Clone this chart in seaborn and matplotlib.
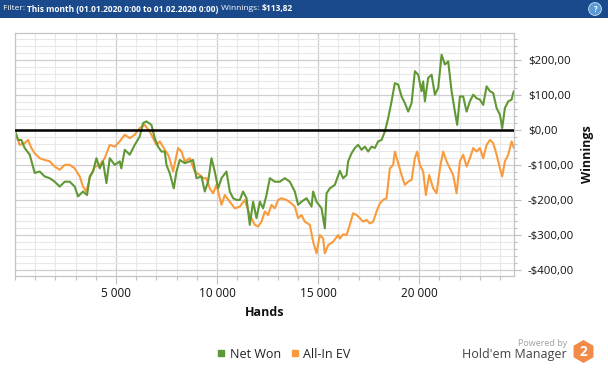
import pandas as pd
import seaborn as sns
import matplotlib.pyplot as plt
from matplotlib.ticker import MultipleLocator, FuncFormatter
from matplotlib.patches import Rectangle, RegularPolygon
from matplotlib.lines import Line2D

# --- data (hands played, cumulative $) ---
net_hands = [0, 150, 317, 480, 728, 975, 1223, 1470, 1718, 1965, 2213, 2460, 2708, 2955,
             3119, 3366, 3564, 3698, 3861, 4029, 4193, 4356, 4524, 4688, 4935, 5183, 5260,
             5430, 5678, 5925, 6173, 6336, 6504, 6752, 6915, 7079, 7247, 7410, 7494, 7658,
             7856, 7989, 8153, 8400, 8648, 8811, 8979, 9227, 9390, 9554, 9722, 9885, 10049,
             10217, 10464, 10628, 10791, 10959, 11123, 11286, 11454, 11618, 11781, 11949,
             12113, 12276, 12444, 12608, 12855, 13103, 13350, 13598, 13845, 14009, 14177,
             14424, 14672, 14751, 14919, 15167, 15330, 15414, 15578, 15825, 16073, 16236,
             16404, 16484, 16652, 16815, 16979, 17147, 17310, 17474, 17642, 17805, 17969,
             18137, 18300, 18464, 18632, 18795, 18959, 19127, 19290, 19454, 19622, 19785,
             19949, 20117, 20196, 20280, 20444, 20612, 20775, 20939, 21107, 21270, 21434,
             21602, 21765, 21879, 22013, 22176, 22344, 22508, 22671, 22839, 23003, 23166,
             23334, 23498, 23661, 23829, 23993, 24107, 24240, 24404, 24572, 24651, 24686]
net_won = [-3, -29, -29, -52, -71, -123, -119, -133, -138, -148, -162, -148, -148, -162,
           -190, -176, -186, -133, -119, -81, -110, -90, -152, -81, -100, -90, -110,
           -57, -71, -43, -19, 19, 24, 14, -24, -48, -62, -62, -100, -124,
           -167, -119, -86, -95, -90, -86, -138, -133, -176, -148, -81, -119, -167,
           -138, -119, -176, -195, -200, -200, -176, -195, -271, -205, -252,
           -205, -224, -186, -138, -148, -148, -138, -148, -176, -214, -205,
           -195, -219, -176, -205, -224, -281, -181, -167, -157, -117, -138,
           -129, -90, -67, -52, -43, -57, -48, -62, -48, -52, -33,
           -29, -5, 33, 81, 133, 129, 95, 76, 52, 76, 167,
           157, 110, 138, 81, 148, 157, 100, 119, 214, 186, 195,
           110, 52, 14, 95, 95, 52, 81, 100, 90, 86, 71,
           124, 110, 105, 62, 43, 5, 62, 81, 86, 105, 110]

ev_hands = [0, 233, 480, 644, 812, 975, 1223, 1470, 1718, 1965, 2213, 2460, 2708, 2955,
            3203, 3366, 3534, 3698, 3945, 4193, 4440, 4688, 4935, 5183, 5430, 5678, 5925,
            6173, 6420, 6668, 6831, 6999, 7163, 7410, 7574, 7658, 7821, 8069, 8237, 8400,
            8648, 8895, 9143, 9306, 9474, 9638, 9801, 9969, 10217, 10380, 10628, 10875,
            11123, 11370, 11618, 11865, 12029, 12197, 12360, 12524, 12692, 12855, 13019,
            13187, 13434, 13682, 13845, 14009, 14177, 14340, 14588, 14751, 14919, 15083,
            15246, 15330, 15494, 15741, 15989, 16073, 16236, 16404, 16568, 16731, 16899,
            17063, 17226, 17394, 17558, 17721, 17889, 18053, 18216, 18384, 18548, 18711,
            18795, 18959, 19127, 19290, 19454, 19622, 19785, 19899, 20033, 20196, 20330,
            20493, 20691, 20859, 21023, 21186, 21354, 21518, 21681, 21849, 22013, 22176,
            22344, 22508, 22671, 22839, 23003, 23166, 23334, 23498, 23661, 23829, 23993,
            24107, 24240, 24404, 24572, 24686]
allin_ev = [-3, -43, -38, -29, -52, -67, -81, -86, -90, -105, -114, -100, -100, -110,
            -133, -162, -176, -138, -105, -100, -81, -43, -48, -33, -14, -24, -14,
            5, 14, -5, -24, -43, -33, -57, -71, -85, -119, -52, -62, -90,
            -81, -119, -129, -138, -138, -167, -181, -157, -214, -186, -205, -224,
            -219, -200, -243, -271, -276, -262, -233, -243, -214, -224, -200,
            -195, -200, -210, -219, -252, -243, -262, -271, -319, -352, -300,
            -310, -352, -329, -319, -300, -310, -298, -300, -271, -238, -243,
            -252, -262, -257, -267, -262, -233, -210, -200, -195, -110, -100,
            -62, -95, -129, -157, -148, -143, -81, -62, -100, -119, -186,
            -129, -167, -181, -110, -62, -90, -110, -129, -181, -90, -71,
            -105, -81, -52, -62, -52, -81, -43, -29, -38, -71, -110,
            -133, -90, -71, -33, -52]

series_names = ["Net Won", "All-In EV"]
series_colors = ["#5f9834", "#f99b3c"]
x_ticks = [5000, 10000, 15000, 20000]
y_ticks = [200, 100, 0, -100, -200, -300, -400]

W, H = 608, 368


def money(v, pos=None):
    v = round(v)
    sign = "-" if v < 0 else ""
    return sign + "$" + f"{abs(v):.2f}".replace(".", ",")


def hands_fmt(v, pos=None):
    return f"{int(v):,}".replace(",", " ")


def main():
    sns.set_theme(style="white")
    plt.rcParams["font.family"] = ["Open Sans", "DejaVu Sans"]

    df = pd.concat([
        pd.DataFrame({"hands": net_hands, "winnings": net_won, "series": series_names[0]}),
        pd.DataFrame({"hands": ev_hands, "winnings": allin_ev, "series": series_names[1]}),
    ])

    fig = plt.figure(figsize=(W / 100, H / 100), dpi=100)
    fig.patch.set_facecolor("white")
    ax = fig.add_axes([15 / W, 1 - 275.7 / H, 499 / W, 242.7 / H])

    # grid first
    ax.xaxis.set_minor_locator(MultipleLocator(1000))
    ax.yaxis.set_minor_locator(MultipleLocator(20))
    ax.grid(which="minor", color="#e8e8e8", lw=0.8)
    ax.grid(which="major", color="#cfcfcf", lw=0.9)
    ax.set_axisbelow(True)

    sns.lineplot(data=df, x="hands", y="winnings", hue="series",
                 hue_order=[series_names[1], series_names[0]],
                 palette=dict(zip(series_names, series_colors)),
                 estimator=None, sort=False, lw=1.5, legend=False, ax=ax)
    ax.axhline(0, color="black", lw=1.8, zorder=3)

    ax.set_xlim(0, 24690)
    ax.set_ylim(-416, 276)
    ax.set_xticks(x_ticks)
    ax.set_yticks(y_ticks)
    ax.xaxis.set_major_formatter(FuncFormatter(hands_fmt))
    ax.yaxis.set_major_formatter(FuncFormatter(money))
    ax.yaxis.tick_right()
    ax.tick_params(axis="x", which="major", length=6, width=0.8, color="#c0c0c0",
                   pad=2, labelsize=8.5, labelcolor="#111111", bottom=True)
    ax.tick_params(axis="x", which="minor", length=3, width=0.8, color="#c0c0c0", bottom=True)
    ax.tick_params(axis="y", which="major", length=5, width=0.8, color="#c0c0c0",
                   pad=5, labelsize=8.2, labelcolor="#111111", right=True, left=False)
    ax.tick_params(axis="y", which="minor", length=2.5, width=0.8, color="#c0c0c0",
                   right=True, left=False)
    for s in ax.spines.values():
        s.set_color("#c4c4c4")
        s.set_linewidth(0.9)

    ax.set_xlabel("Hands", fontsize=9, fontweight="bold", color="#111111")
    ax.set_ylabel("")
    fig.text(588 / W, 1 - 154 / H, "Winnings", rotation=90, ha="center", va="center",
             fontsize=9, fontweight="bold", color="#111111")
    ax.xaxis.set_label_coords(0.5, -(312 - 275.7) / 242.7)
    ax.xaxis.label.set_va("center")

    # header bar
    fig.patches.append(Rectangle((0, 1 - 18 / H), 1, 18 / H, transform=fig.transFigure,
                                 facecolor="#1b4a8c", edgecolor="none", zorder=0))
    renderer = fig.canvas.get_renderer()
    parts = [("Filter: ", "normal"),
             ("This month (01.01.2020 0:00 to 01.02.2020 0:00)", "bold"),
             (" Winnings: ", "normal"),
             ("$113,82", "bold")]
    xpos = 3
    for txt, wgt in parts:
        t = fig.text(xpos / W, 1 - 9 / H, txt, color="white", fontsize=6.0,
                     fontweight=wgt, ha="left", va="center")
        xpos += t.get_window_extent(renderer).width
    fig.text(595 / W, 1 - 9 / H, "?", color="white", fontsize=5.5, fontweight="bold",
             ha="center", va="center",
             bbox=dict(boxstyle="circle,pad=0.25", facecolor="#5b9bd5", edgecolor="#cfe2f5", lw=0.6))

    # legend
    handles = [Line2D([], [], marker="s", ls="", markersize=4.5, color=c) for c in series_colors]
    fig.legend(handles, series_names, loc="center", bbox_to_anchor=(284 / W, 1 - 354 / H),
               ncol=2, frameon=False, fontsize=9, handlelength=0.6, handletextpad=0.4,
               columnspacing=0.8, labelcolor="#222222")

    # branding
    fig.text(567 / W, 1 - 343.5 / H, "Powered by", ha="right", va="center",
             fontsize=6.5, color="#a0a0a0")
    fig.text(567 / W, 1 - 354.5 / H, "Hold'em Manager", ha="right", va="center",
             fontsize=9, color="#444444")
    lax = fig.add_axes([571 / W, 1 - 364 / H, 25 / W, 25 / H])
    lax.set_xlim(-1, 1)
    lax.set_ylim(-1, 1)
    lax.set_aspect("equal")
    lax.axis("off")
    lax.add_patch(RegularPolygon((0, 0), 6, radius=0.92, orientation=0,
                                 facecolor="#f28a48", edgecolor="none"))
    lax.text(0, -0.02, "2", ha="center", va="center", color="white",
             fontsize=10, fontweight="bold")

    fig.savefig("out.png", dpi=100)


if __name__ == "__main__":
    main()
